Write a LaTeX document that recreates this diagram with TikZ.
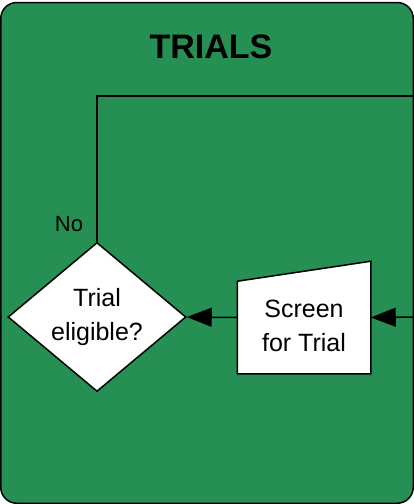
\documentclass[tikz,border=0pt]{standalone}
\usepackage{fontspec}
\setmainfont{Liberation Sans}
\usetikzlibrary{positioning,shapes.geometric,arrows.meta}
\definecolor{trialgreen}{RGB}{38,143,83}

\begin{document}
\begin{tikzpicture}[x=1pt, y=-1pt, line width=1.5pt,
  every node/.style={font=\fontsize{25}{34}\selectfont, align=center},
  tip/.style={-{Triangle[length=25pt,width=19pt]}}]
  \useasboundingbox (0,0) rectangle (414,504);
  \fill[white] (0,0) rectangle (414,504);

  % zelený panel
  \draw[fill=trialgreen, rounded corners=16pt] (0.75,2.5) rectangle (413.25,503.25);
  \node[font=\fontsize{34}{40}\selectfont\bfseries] (title) at (211,47) {TRIALS};

  % rozhodnutí
  \node[diamond, draw, fill=white, minimum width=178pt, minimum height=145pt, inner sep=0pt] (elig) at (97,317) {Trial\\eligible?};

  % screening (ruční vstup)
  \node[minimum width=132pt, minimum height=111pt, inner sep=0pt] (screen) at (304,317.5) {};
  \draw[fill=white] (screen.south west) -- (screen.south east) -- (screen.north east) -- ([yshift=-20pt]screen.north west) -- cycle;
  \node (screentext) at ([yshift=-8pt]screen.center) {Screen\\for Trial};

  % volné konce na okraji
  \coordinate (inR) at (414,317);
  \coordinate (loopR) at (414,96);

  % šipky
  \draw[tip] (inR) -- (screen.east);
  \draw[tip] (screen.west) -- (elig.east);
  \draw (elig.north) |- (loopR);

  % popisek větve
  \node[font=\fontsize{22}{26}\selectfont] (no) at (69,224) {No};
\end{tikzpicture}
\end{document}
